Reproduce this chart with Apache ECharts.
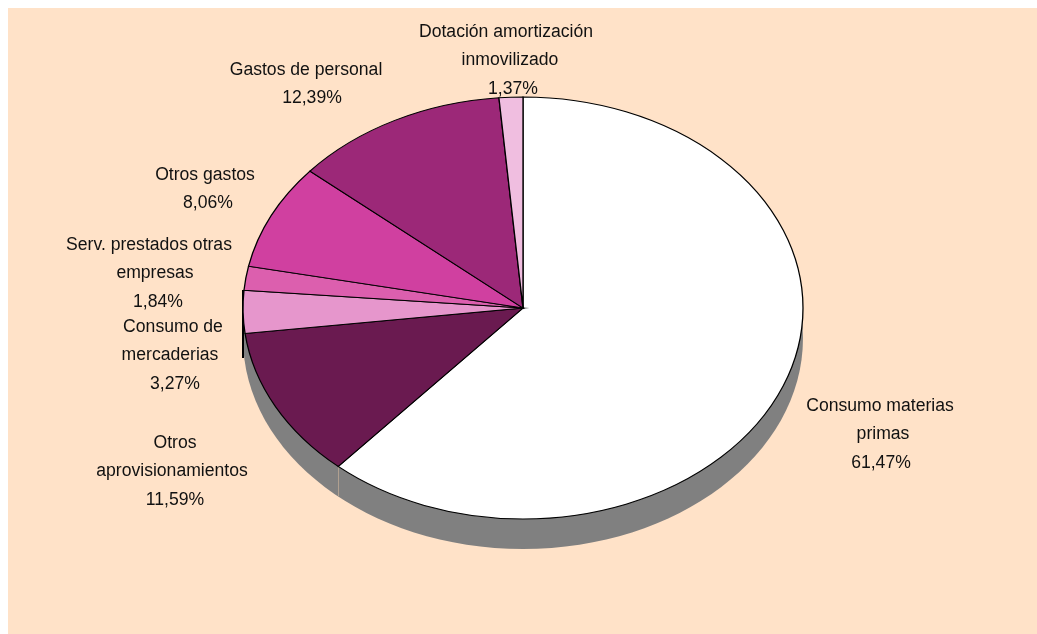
<!DOCTYPE html>
<html>
<head>
<meta charset="utf-8">
<style>html,body{margin:0;padding:0;background:#fff}#c{width:1037px;height:634px}</style>
<script src="https://cdn.jsdelivr.net/npm/echarts@6/dist/echarts.min.js"></script>
</head>
<body>
<div id="c"></div>
<script>
const categories = [['Consumo materias','primas'],['Otros','aprovisionamientos'],['Consumo de','mercaderias'],['Serv. prestados otras','empresas'],['Otros gastos'],['Gastos de personal'],['Dotación amortización','inmovilizado']];
const values = [61.47,11.59,3.27,1.84,8.06,12.39,1.37];
const colors = ['#FFFFFF','#6A1A50','#E696CC','#DC5FAE','#D040A0','#9C2878','#F0BEE0'];
// label layout: x centre of each text line, y of the first line
const labelLineX = [[880,883,881],[175,172,175],[173,170,175],[149,155,158],[205,208],[306,312],[506,510,513]];
const labelTopY = [406,443,327,245,175,70,32];

const cx = 523, cy = 308, rx = 280, ry = 211, depth = 30, lineGap = 28.6;
const total = values.reduce((a,b)=>a+b,0);
const font = '17.6px "Liberation Sans", Arial, sans-serif';

const chart = echarts.init(document.getElementById('c'), null, {renderer:'canvas'});
chart.setOption({
  animation:false,
  graphic:[
    {type:'rect', z:0, shape:{x:8,y:8,width:1029,height:626}, style:{fill:'#FFE2C8'}},
    {type:'ellipse', z:1, shape:{cx:cx,cy:cy+depth,rx:rx,ry:ry}, style:{fill:'#808080'}},
    {type:'line', z:1, shape:{x1:243,y1:290,x2:243,y2:358}, style:{stroke:'#000',lineWidth:2}},
    {type:'line', z:1, shape:{x1:338.5,y1:466,x2:338.5,y2:496}, style:{stroke:'#B0A090',lineWidth:1}}
  ],
  series:[{
    type:'custom',
    coordinateSystem:'none',
    clip:false,
    data:values,
    renderItem:function(params, api){
      const i = params.dataIndex;
      let before = 0;
      for (let k=0;k<i;k++) before += values[k];
      const start = -Math.PI/2 + before/total*Math.PI*2;
      const end = start + values[i]/total*Math.PI*2;
      const pct = api.value(0).toFixed(2).replace('.',',')+'%';
      const lines = categories[i].concat([pct]);
      const texts = lines.map(function(t,n){
        return {type:'text', z2:10, x:labelLineX[i][n], y:labelTopY[i]+n*lineGap,
          style:{text:t, align:'center', verticalAlign:'middle', font:font, fill:'#111'}};
      });
      return {
        type:'group',
        children:[
          {type:'sector', x:cx, y:cy, scaleX:1, scaleY:ry/rx,
           shape:{cx:0,cy:0,r:rx,r0:0,startAngle:start,endAngle:end,clockwise:true},
           style:{fill:colors[i],stroke:'#000',lineWidth:1.3,strokeNoScale:true}}
        ].concat(texts)
      };
    }
  }]
});
</script>
</body>
</html>
